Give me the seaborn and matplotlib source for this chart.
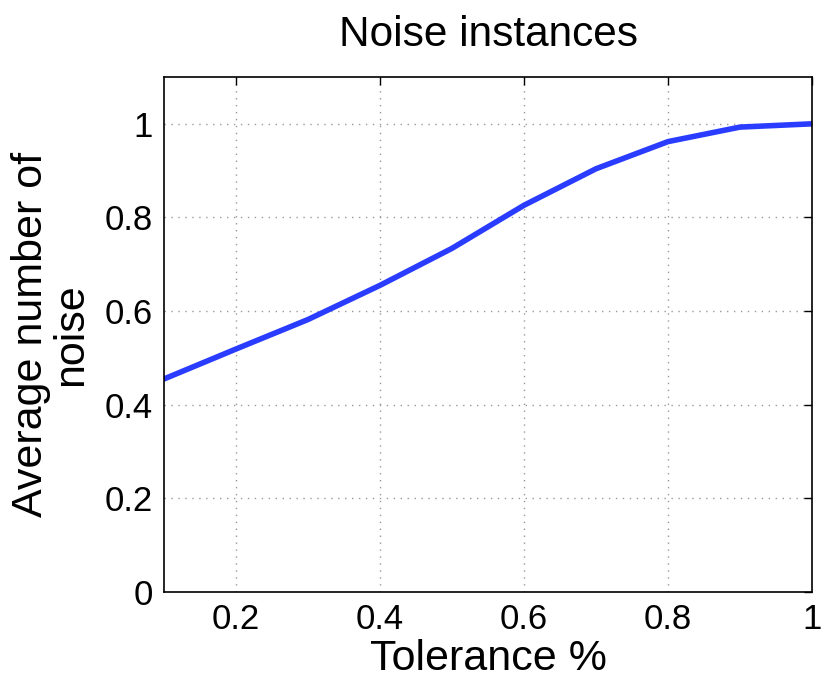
import seaborn as sns
import matplotlib.pyplot as plt
import pandas as pd

# Values
tolerance = [0.1, 0.2, 0.3, 0.4, 0.5, 0.6, 0.7, 0.8, 0.9, 1.0]
avg_noise = [0.455, 0.519, 0.582, 0.655, 0.734, 0.826, 0.904, 0.962, 0.993, 1.0]
x_ticks = [0.2, 0.4, 0.6, 0.8, 1.0]
x_tick_labels = ['0.2', '0.4', '0.6', '0.8', '1']
y_ticks = [0, 0.2, 0.4, 0.6, 0.8, 1.0]
y_tick_labels = ['0', '0.2', '0.4', '0.6', '0.8', '1']

df = pd.DataFrame({'Tolerance': tolerance, 'Noise': avg_noise})

sns.set_style('white')
plt.rcParams['font.family'] = ['Liberation Sans', 'DejaVu Sans']
plt.rcParams['text.color'] = 'black'
plt.rcParams['axes.labelcolor'] = 'black'
plt.rcParams['xtick.color'] = 'black'
plt.rcParams['ytick.color'] = 'black'

fig = plt.figure(figsize=(8.3, 6.81), dpi=100)
ax = fig.add_axes([164 / 830, 1 - 592 / 681, (812 - 164) / 830, (592 - 77) / 681])

sns.lineplot(data=df, x='Tolerance', y='Noise', ax=ax, color='#2a3cff', linewidth=4)

ax.set_xlim(0.1, 1.0)
ax.set_ylim(0, 1.1)
ax.set_xticks(x_ticks)
ax.set_xticklabels(x_tick_labels)
ax.set_yticks(y_ticks)
ax.set_yticklabels(y_tick_labels)

# MATLAB-like look: inward ticks on all sides, dotted grid, black box
ax.tick_params(direction='in', length=6, width=1, labelsize=25, colors='black',
               top=True, right=True, pad=8)
ax.grid(True, linestyle=(0, (1, 4)), color='#999999', linewidth=1)
for sp in ax.spines.values():
    sp.set_color('black')
    sp.set_linewidth(1.2)

ax.set_xlabel('Tolerance %', fontsize=31, labelpad=2, color='black')
ax.set_ylabel('Average number of\nnoise', fontsize=31, labelpad=10,
              linespacing=1.0, color='black')
ax.set_title('Noise instances', fontsize=30.5, pad=22, color='black')

fig.savefig('out.png', dpi=100)
plt.close(fig)
